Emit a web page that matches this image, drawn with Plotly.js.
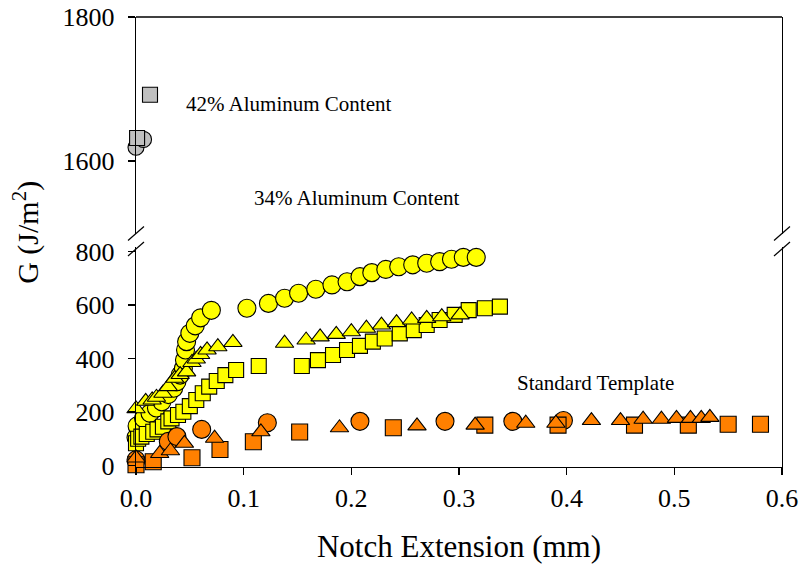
<!DOCTYPE html>
<html>
<head>
<meta charset="utf-8">
<script src="https://cdn.plot.ly/plotly-3.0.1.min.js"></script>
<style>
  html, body { margin: 0; padding: 0; background: #ffffff; }
  #chart { width: 799px; height: 564px; }
</style>
</head>
<body>
<div id="chart"></div>
<script>
// 34% aluminum content (yellow)
const al34CircleX = [0.000, 0.001, 0.007, 0.013, 0.019, 0.024, 0.030, 0.035, 0.038, 0.041, 0.044, 0.045, 0.046, 0.047, 0.050, 0.055, 0.060, 0.070,
  0.103, 0.123, 0.138, 0.151, 0.167, 0.182, 0.196, 0.208, 0.219, 0.232, 0.244, 0.257, 0.270, 0.282, 0.293, 0.304, 0.316];
const al34CircleG = [105, 148, 176, 195, 215, 238, 265, 289, 313, 338, 363, 394, 432, 463, 494, 522, 552, 580,
  588, 606, 625, 644, 659, 675, 687, 706, 721, 733, 743, 750, 756, 762, 771, 778, 778];

const al34TriangleX = [0.000, 0.009, 0.015, 0.019, 0.025, 0.030, 0.036, 0.041, 0.047, 0.052, 0.056, 0.060, 0.066, 0.076, 0.090,
  0.138, 0.158, 0.171, 0.186, 0.200, 0.214, 0.228, 0.242, 0.256, 0.270, 0.284, 0.301];
const al34TriangleG = [212, 240, 245, 255, 270, 295, 326, 340, 350, 385, 398, 415, 432, 444, 460,
  457, 469, 481, 490, 500, 513, 525, 534, 544, 550, 556, 563];

const al34SquareX = [0.000, 0.002, 0.005, 0.010, 0.016, 0.020, 0.025, 0.030, 0.033, 0.039, 0.044, 0.050, 0.056, 0.062, 0.068, 0.075, 0.083, 0.093,
  0.114, 0.154, 0.169, 0.183, 0.196, 0.208, 0.220, 0.231, 0.245, 0.258, 0.270, 0.282, 0.296, 0.309, 0.324, 0.338];
const al34SquareG = [83, 100, 108, 118, 126, 135, 145, 165, 176, 189, 201, 222, 245, 270, 295, 316, 338, 357,
  372, 372, 394, 413, 432, 447, 463, 475, 494, 506, 525, 544, 563, 581, 588, 594];

// Standard template (orange)
const stdCircleX = [0.000, 0.030, 0.038, 0.061, 0.122, 0.208, 0.287, 0.350, 0.397];
const stdCircleG = [21, 90, 108, 135, 160, 165, 165, 165, 168];

const stdTriangleX = [0.000, 0.022, 0.032, 0.045, 0.073, 0.116, 0.189, 0.261, 0.315, 0.362, 0.390, 0.423, 0.450, 0.471, 0.488, 0.502, 0.515, 0.525, 0.533];
const stdTriangleG = [28, 45, 55, 83, 102, 126, 141, 148, 151, 158, 158, 168, 168, 173, 173, 176, 176, 176, 180];

const stdSquareX = [0.000, 0.016, 0.052, 0.078, 0.109, 0.152, 0.239, 0.324, 0.392, 0.463, 0.513, 0.550, 0.580];
const stdSquareG = [3, 14, 29, 60, 89, 125, 141, 151, 151, 151, 151, 154, 154];

// 42% aluminum content (grey), upper panel
const al42SquareX = [0.001, 0.013];
const al42SquareG = [1632, 1692];
const al42CircleX = [0.000, 0.007];
const al42CircleG = [1619, 1630];

const xTickVals = [0, 0.1, 0.2, 0.3, 0.4, 0.5, 0.6];
const lowerTickVals = [0, 200, 400, 600, 800];
const upperTickVals = [1600, 1800];

const YELLOW = '#ffff00';
const ORANGE = '#ff8000';
const GREY = '#c0c0c0';
const FONT = 'Liberation Serif, Times New Roman, serif';

function series(x, y, symbol, color, size, yaxis) {
  return {
    x: x, y: y, type: 'scatter', mode: 'markers', yaxis: yaxis || 'y',
    cliponaxis: false, showlegend: false, hoverinfo: 'skip',
    marker: { symbol: symbol, color: color, size: size, line: { color: '#000000', width: 1.1 } }
  };
}

const traces = [
  series(al34CircleX, al34CircleG, 'circle', YELLOW, 18),
  series(al34SquareX, al34SquareG, 'square', YELLOW, 15),
  series(al34TriangleX, al34TriangleG, 'triangle-up', YELLOW, 16),
  series(stdCircleX, stdCircleG, 'circle', ORANGE, 18),
  series(stdSquareX, stdSquareG, 'square', ORANGE, 16),
  series(stdTriangleX, stdTriangleG, 'triangle-up', ORANGE, 16),
  series(al42CircleX, al42CircleG, 'circle', GREY, 16, 'y2'),
  series(al42SquareX, al42SquareG, 'square', GREY, 15, 'y2')
];

// axis-break slashes on the left and right spines (paper units, measured up from the plot bottom)
const PW = 646, PH = 450;
function slash(px, py) {
  const x0 = px / PW, y0 = py / PH;
  return { type: 'line', xref: 'paper', yref: 'paper', x0: x0 - 8 / PW, y0: y0 - 7 / PH, x1: x0 + 8 / PW, y1: y0 + 7 / PH,
           line: { color: '#000000', width: 1.2 } };
}

const axisCommon = {
  showgrid: false, zeroline: false, showline: true, linecolor: '#000000', linewidth: 1.3,
  ticks: 'outside', ticklen: 7, tickwidth: 1.3, tickcolor: '#000000',
  tickfont: { family: FONT, size: 26, color: '#000000' }
};

const layout = {
  width: 799, height: 564,
  margin: { l: 136, r: 17, t: 17, b: 97, pad: 0 },
  paper_bgcolor: '#ffffff', plot_bgcolor: '#ffffff',
  font: { family: FONT, color: '#000000' },
  xaxis: Object.assign({}, axisCommon, {
    range: [0, 0.6], tickvals: xTickVals, tickformat: '.1f', anchor: 'y',
    title: { text: 'Notch Extension (mm)', font: { family: FONT, size: 31, color: '#000000' }, standoff: 24 }
  }),
  yaxis: Object.assign({}, axisCommon, {
    domain: [0, 0.4889], range: [-5.6, 816.8], tickvals: lowerTickVals, mirror: true, anchor: 'x',
    ticklabelstandoff: 8
  }),
  yaxis2: Object.assign({}, axisCommon, {
    domain: [0.5178, 1], range: [1498.6, 1800], tickvals: upperTickVals, mirror: true, anchor: 'x',
    ticklabelstandoff: 8
  }),
  shapes: [
    { type: 'line', xref: 'paper', yref: 'paper', x0: 0, x1: 1, y0: 1, y1: 1, line: { color: '#000000', width: 1.3 } },
    slash(0, 233.5), slash(0, 218),
    slash(PW, 233.5), slash(PW, 218)
  ],
  annotations: [
    { text: 'G (J/m<sup>2</sup>)', xref: 'paper', yref: 'paper', x: -0.204, y: 0.522, textangle: -90,
      showarrow: false, font: { family: FONT, size: 30, color: '#000000' } },
    { text: '42% Aluminum Content', xref: 'x', yref: 'y2', x: 0.0445, y: 1679, xanchor: 'left', yanchor: 'middle',
      showarrow: false, font: { family: FONT, size: 21, color: '#000000' } },
    { text: '34% Aluminum Content', xref: 'x', yref: 'y2', x: 0.1077, y: 1549, xanchor: 'left', yanchor: 'middle',
      showarrow: false, font: { family: FONT, size: 21, color: '#000000' } },
    { text: 'Standard Template', xref: 'x', yref: 'y', x: 0.352, y: 308, xanchor: 'left', yanchor: 'middle',
      showarrow: false, font: { family: FONT, size: 21, color: '#000000' } }
  ]
};

Plotly.newPlot('chart', traces, layout, { staticPlot: true, displayModeBar: false });
</script>
</body>
</html>
